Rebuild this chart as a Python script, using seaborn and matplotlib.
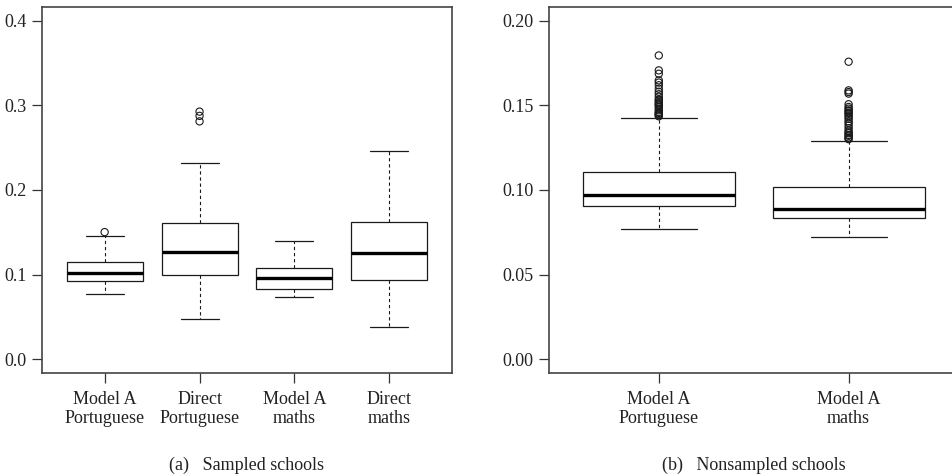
import pandas as pd
import matplotlib
matplotlib.use("Agg")
import matplotlib.pyplot as plt
import seaborn as sns

sns.set_style("ticks")
plt.rcParams["font.family"] = ["Liberation Serif", "DejaVu Serif"]

# --- panel (a): sampled schools ---
groups_a = ["Model A\nPortuguese", "Direct\nPortuguese", "Model A\nmaths", "Direct\nmaths"]
# lower whisker, q1, median, q3, upper whisker
lo_a = [0.0777, 0.0479, 0.0734, 0.0381]
q1_a = [0.0922, 0.1001, 0.0836, 0.0942]
med_a = [0.1025, 0.1268, 0.0962, 0.1260]
q3_a = [0.1150, 0.1609, 0.1079, 0.1621]
hi_a = [0.1456, 0.2324, 0.1397, 0.2457]
out_a = {
    "Model A\nPortuguese": [0.1503],
    "Direct\nPortuguese": [0.2925, 0.2875, 0.2810],
}

# --- panel (b): nonsampled schools ---
groups_b = ["Model A\nPortuguese", "Model A\nmaths"]
lo_b = [0.0767, 0.0724]
q1_b = [0.0903, 0.0832]
med_b = [0.0972, 0.0885]
q3_b = [0.1109, 0.1017]
hi_b = [0.1423, 0.1291]
out_b = {
    "Model A\nPortuguese": [0.1794, 0.1706, 0.1686, 0.1647, 0.1634, 0.1618,
                            0.1598, 0.1580, 0.1565, 0.1550, 0.1535, 0.1530,
                            0.1520, 0.1512, 0.1505, 0.1500, 0.1490, 0.1480,
                            0.1470, 0.1460, 0.1455, 0.1450, 0.1445, 0.1440,
                            0.1435],
    "Model A\nmaths": [0.1757, 0.1588, 0.1578, 0.1569, 0.1506, 0.1490,
                       0.1480, 0.1470, 0.1465, 0.1455, 0.1450, 0.1440,
                       0.1430, 0.1420, 0.1405, 0.1395, 0.1380, 0.1365,
                       0.1350, 0.1340, 0.1335, 0.1325, 0.1320, 0.1310,
                       0.1305, 0.1300],
}


def box_frame(groups, lo, q1, med, q3, hi):
    rows = []
    for i, g in enumerate(groups):
        for v in (lo[i], q1[i], med[i], q3[i], hi[i]):
            rows.append({"group": g, "value": v})
    return pd.DataFrame(rows)


def out_frame(outs):
    rows = [{"group": g, "value": v} for g, vals in outs.items() for v in vals]
    return pd.DataFrame(rows)


W, H = 953, 476
fig = plt.figure(figsize=(W / 100, H / 100), dpi=100)
ax_a = fig.add_axes([42 / W, 103 / H, 410 / W, 366 / H])
ax_b = fig.add_axes([548.7 / W, 103 / H, 410 / W, 366 / H])

lc = "#1a1a1a"
box_kw = dict(
    whis=(0, 100), showfliers=False, width=0.8, color="white",
    linecolor=lc, linewidth=0.9,
    medianprops=dict(linewidth=2.4, color="black"),
    whiskerprops=dict(linestyle=(0, (3, 2.5)), linewidth=0.8),
)


def draw(ax, groups, df_box, df_out, ylim, yticks, fmt, caption):
    sns.boxplot(data=df_box, x="group", y="value", order=groups, ax=ax, **box_kw)
    sns.stripplot(data=df_out, x="group", y="value", order=groups, ax=ax,
                  jitter=False, marker="o", size=5.2, facecolors="none",
                  edgecolor=lc, linewidth=0.8, zorder=5)
    n = len(groups)
    ext = 0.04 * n
    ax.set_xlim(-0.5 - ext, n - 0.5 + ext)
    rng = ylim[1] - ylim[0]
    ax.set_ylim(ylim[0] - 0.04 * rng, ylim[1] + 0.04 * rng)
    ax.set_yticks(yticks)
    ax.set_yticklabels([fmt.format(t) for t in yticks])
    ax.set_xlabel("")
    ax.set_ylabel("")
    ax.tick_params(axis="both", direction="out", length=7, width=0.9,
                   color="#333333", labelsize=13, labelcolor="#222222")
    ax.tick_params(axis="y", pad=4)
    ax.tick_params(axis="x", pad=6)
    for lab in ax.get_xticklabels():
        lab.set_linespacing(1.15)
    for s in ax.spines.values():
        s.set_linewidth(1.2)
        s.set_color("#444444")
    pos = ax.get_position()
    fig.text((pos.x0 + pos.x1) / 2, 6 / H, caption, ha="center", va="baseline",
             fontsize=13, color="#222222")


draw(ax_a, groups_a, box_frame(groups_a, lo_a, q1_a, med_a, q3_a, hi_a),
     out_frame(out_a), (0, 0.4), [0.0, 0.1, 0.2, 0.3, 0.4], "{:.1f}",
     "(a)   Sampled schools")
draw(ax_b, groups_b, box_frame(groups_b, lo_b, q1_b, med_b, q3_b, hi_b),
     out_frame(out_b), (0, 0.2), [0.0, 0.05, 0.10, 0.15, 0.20], "{:.2f}",
     "(b)   Nonsampled schools")

fig.savefig("out.png", dpi=100)
